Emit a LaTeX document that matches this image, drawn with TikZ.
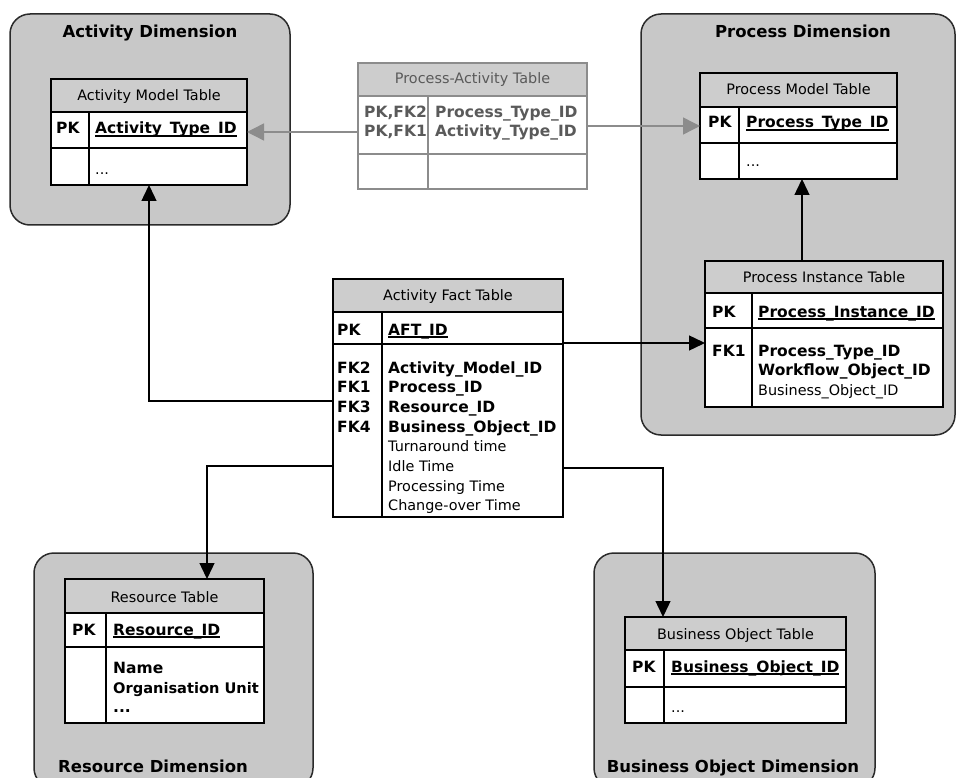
\documentclass[tikz,border=0pt]{standalone}
\usepackage{fontspec}
\setmainfont{DejaVu Sans}
\usetikzlibrary{arrows.meta}
\definecolor{dimfill}{HTML}{C8C8C8}
\definecolor{hdrfill}{HTML}{CDCDCD}
\definecolor{pagray}{HTML}{8C8C8C}
\definecolor{patext}{HTML}{5A5A5A}
\definecolor{dimline}{HTML}{2A2A2A}
\newcommand\myul[1]{\setbox0\hbox{#1}\rlap{\vrule height -1.3pt depth 2.6pt width \wd0}\box0}
\begin{document}
\begin{tikzpicture}[x=1pt,y=-1pt,
 dimbox/.style={draw=dimline, line width=1.5pt, fill=dimfill, rounded corners=20pt, rectangle, inner sep=0pt, outer sep=0pt, anchor=north west},
 tbl/.style={draw, line width=1.4pt, fill=white, rectangle, inner sep=0pt, outer sep=0pt, anchor=north west},
 hdr/.style={draw, line width=1.4pt, fill=hdrfill},
 sep/.style={line width=1.4pt},
 hdrtxt/.style={font=\fontsize{14.4}{17}\selectfont, inner sep=0pt, anchor=base},
 keytxt/.style={font=\fontsize{15.5}{18}\selectfont\bfseries, inner sep=0pt, anchor=base west},
 fldtxt/.style={font=\fontsize{14.4}{17}\selectfont, inner sep=0pt, anchor=base west},
 titletxt/.style={font=\fontsize{16.5}{20}\selectfont\bfseries, inner sep=0pt, anchor=base},
 conn/.style={line width=1.4pt, -{Triangle[length=16pt,width=15pt]}},
 gconn/.style={line width=1.4pt, draw=pagray, -{Triangle[length=17pt,width=17pt,fill=pagray]}}
]
\useasboundingbox (0,0) rectangle (956,778);
\clip (0,0) rectangle (956,778);

% ---------- dimension boxes ----------
\node[dimbox, minimum width=280pt, minimum height=211pt] (actdim) at (10,14) {};
\node[dimbox, minimum width=314pt, minimum height=421pt] (procdim) at (641,14) {};
\node[dimbox, minimum width=279pt, minimum height=235pt] (resdim) at (34,553) {};
\node[dimbox, minimum width=281pt, minimum height=235pt] (bodim) at (594,553) {};

\node[titletxt] (actdimt) at (150,38) {Activity Dimension};
\node[titletxt] (procdimt) at (803,38) {Process Dimension};
\node[titletxt] (resdimt) at (153,772) {Resource Dimension};
\node[titletxt] (bodimt) at (733,772) {Business Object Dimension};

% ---------- Activity Model Table ----------
\node[tbl, minimum width=196pt, minimum height=106pt] (amt) at (51,79) {};
\draw[hdr] (51,79) rectangle (247,112);
\draw[sep] (51,148) -- (247,148) (89,112) -- (89,185);
\node[hdrtxt] (amth) at (149,101) {Activity Model Table};
\node[keytxt] (amtpk) at (56,134) {PK};
\node[keytxt] (amtf1) at (95,134) {\myul{Activity\_Type\_ID}};
\node[fldtxt] (amtf2) at (95,175) {...};

% ---------- Process-Activity Table ----------
\node[tbl, draw=pagray, minimum width=229pt, minimum height=126pt] (pat) at (358,63) {};
\draw[hdr, draw=pagray] (358,63) rectangle (587,96);
\draw[sep, draw=pagray] (358,154) -- (587,154) (428,96) -- (428,189);
\node[hdrtxt, text=patext] (path) at (472.5,84) {Process-Activity Table};
\node[keytxt, text=patext] (patk1) at (364,118) {PK,FK2};
\node[keytxt, text=patext] (patk2) at (364,137) {PK,FK1};
\node[keytxt, text=patext] (patf1) at (435,118) {Process\_Type\_ID};
\node[keytxt, text=patext] (patf2) at (435,137) {Activity\_Type\_ID};

% ---------- Process Model Table ----------
\node[tbl, minimum width=197pt, minimum height=106pt] (pmt) at (700,73) {};
\draw[hdr] (700,73) rectangle (897,107);
\draw[sep] (700,143) -- (897,143) (739,107) -- (739,179);
\node[hdrtxt] (pmth) at (798.5,95) {Process Model Table};
\node[keytxt] (pmtpk) at (708,128) {PK};
\node[keytxt] (pmtf1) at (746,128) {\myul{Process\_Type\_ID}};
\node[fldtxt] (pmtf2) at (746,167) {...};

% ---------- Process Instance Table ----------
\node[tbl, minimum width=238pt, minimum height=146pt] (pit) at (705,261) {};
\draw[hdr] (705,261) rectangle (943,293);
\draw[sep] (705,328) -- (943,328) (752,293) -- (752,407);
\node[hdrtxt] (pith) at (824,282) {Process Instance Table};
\node[keytxt] (pitpk) at (712,317) {PK};
\node[keytxt] (pitf1) at (758,317) {\myul{Process\_Instance\_ID}};
\node[keytxt] (pitfk) at (712,356) {FK1};
\node[keytxt] (pitf2) at (758,356) {Process\_Type\_ID};
\node[keytxt] (pitf3) at (758,375.5) {Workflow\_Object\_ID};
\node[fldtxt] (pitf4) at (758,395) {Business\_Object\_ID};

% ---------- Activity Fact Table ----------
\node[tbl, minimum width=230pt, minimum height=238pt] (aft) at (333,279) {};
\draw[hdr] (333,279) rectangle (563,312);
\draw[sep] (333,344) -- (563,344) (382,312) -- (382,517);
\node[hdrtxt] (afth) at (448,300) {Activity Fact Table};
\node[keytxt] (aftpk) at (337,335) {PK};
\node[keytxt] (aftid) at (388,335) {\myul{AFT\_ID}};
\node[keytxt] (aftk2) at (337,373) {FK2};
\node[keytxt] (aftk1) at (337,392.7) {FK1};
\node[keytxt] (aftk3) at (337,412.4) {FK3};
\node[keytxt] (aftk4) at (337,432.1) {FK4};
\node[keytxt] (aftf1) at (388,373) {Activity\_Model\_ID};
\node[keytxt] (aftf2) at (388,392.7) {Process\_ID};
\node[keytxt] (aftf3) at (388,412.4) {Resource\_ID};
\node[keytxt] (aftf4) at (388,432.1) {Business\_Object\_ID};
\node[fldtxt] (aftf5) at (388,451.8) {Turnaround time};
\node[fldtxt] (aftf6) at (388,471.5) {Idle Time};
\node[fldtxt] (aftf7) at (388,491.2) {Processing Time};
\node[fldtxt] (aftf8) at (388,510.9) {Change-over Time};

% ---------- Resource Table ----------
\node[tbl, minimum width=199pt, minimum height=144pt] (rt) at (65,579) {};
\draw[hdr] (65,579) rectangle (264,613);
\draw[sep] (65,647) -- (264,647) (106,613) -- (106,723);
\node[hdrtxt] (rth) at (164.5,602) {Resource Table};
\node[keytxt] (rtpk) at (72,635) {PK};
\node[keytxt] (rtf1) at (113,635) {\myul{Resource\_ID}};
\node[keytxt] (rtf2) at (113,673) {Name};
\node[keytxt, font=\fontsize{14.6}{18}\selectfont\bfseries] (rtf3) at (113,693) {Organisation Unit};
\node[keytxt] (rtf4) at (113,712) {...};

% ---------- Business Object Table ----------
\node[tbl, minimum width=221pt, minimum height=106pt] (bot) at (625,617) {};
\draw[hdr] (625,617) rectangle (846,650);
\draw[sep] (625,687) -- (846,687) (664,650) -- (664,723);
\node[hdrtxt] (both) at (735.5,639) {Business Object Table};
\node[keytxt] (botpk) at (632,672) {PK};
\node[keytxt] (botf1) at (671,672) {\myul{Business\_Object\_ID}};
\node[fldtxt] (botf2) at (671,712) {...};

% ---------- connectors ----------
\draw[gconn] (pat.west |- 0,132) -- (amt.east |- 0,132);
\draw[gconn] (pat.east) -- (pmt.west);
\draw[conn] (aft.west |- 0,401) -| (amt.south);
\draw[conn] (aft.east |- 0,343) -- (pit.west |- 0,343);
\draw[conn] (pit.north -| 802,0) -- (pmt.south -| 802,0);
\draw[conn] (aft.west |- 0,466) -| (rt.north -| 207,0);
\draw[conn] (aft.east |- 0,468) -| (bot.north -| 663,0);
\end{tikzpicture}
\end{document}
